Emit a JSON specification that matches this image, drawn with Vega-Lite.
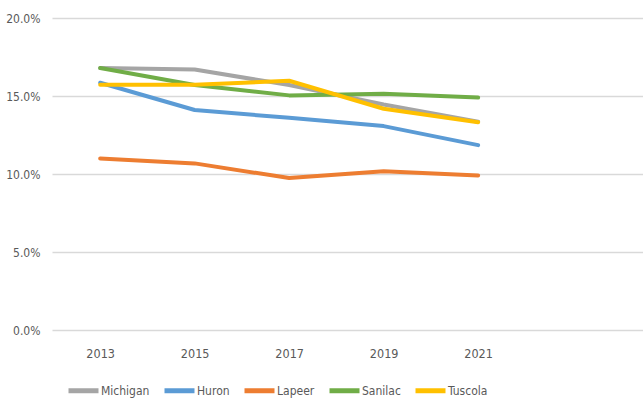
{
  "$schema": "https://vega.github.io/schema/vega-lite/v6.json",
  "width": 591,
  "height": 312,
  "autosize": {"type": "none"},
  "padding": {"left": 52, "top": 18, "right": 0, "bottom": 71},
  "background": "white",
  "config": {
    "view": {"stroke": null},
    "font": "DejaVu Sans Condensed, sans-serif"
  },
  "data": {
    "values": [
      {"year": 2013, "county": "Michigan", "rate": 0.168},
      {"year": 2015, "county": "Michigan", "rate": 0.167},
      {"year": 2017, "county": "Michigan", "rate": 0.157},
      {"year": 2019, "county": "Michigan", "rate": 0.1445},
      {"year": 2021, "county": "Michigan", "rate": 0.1335},
      {"year": 2013, "county": "Huron", "rate": 0.1585},
      {"year": 2015, "county": "Huron", "rate": 0.141},
      {"year": 2017, "county": "Huron", "rate": 0.136},
      {"year": 2019, "county": "Huron", "rate": 0.1307},
      {"year": 2021, "county": "Huron", "rate": 0.1185},
      {"year": 2013, "county": "Lapeer", "rate": 0.110},
      {"year": 2015, "county": "Lapeer", "rate": 0.1068},
      {"year": 2017, "county": "Lapeer", "rate": 0.0974},
      {"year": 2019, "county": "Lapeer", "rate": 0.1017},
      {"year": 2021, "county": "Lapeer", "rate": 0.0991},
      {"year": 2013, "county": "Sanilac", "rate": 0.168},
      {"year": 2015, "county": "Sanilac", "rate": 0.157},
      {"year": 2017, "county": "Sanilac", "rate": 0.1504},
      {"year": 2019, "county": "Sanilac", "rate": 0.1514},
      {"year": 2021, "county": "Sanilac", "rate": 0.149},
      {"year": 2013, "county": "Tuscola", "rate": 0.1572},
      {"year": 2015, "county": "Tuscola", "rate": 0.1572},
      {"year": 2017, "county": "Tuscola", "rate": 0.1598},
      {"year": 2019, "county": "Tuscola", "rate": 0.1418},
      {"year": 2021, "county": "Tuscola", "rate": 0.1332}
    ]
  },
  "mark": {"type": "line", "strokeWidth": 4, "strokeCap": "round", "strokeJoin": "round"},
  "encoding": {
    "x": {
      "field": "year",
      "type": "quantitative",
      "scale": {"domain": [2011.98, 2024.49], "nice": false, "zero": false},
      "axis": {
        "title": null,
        "values": [2013, 2015, 2017, 2019, 2021],
        "format": "d",
        "grid": false,
        "domain": false,
        "ticks": false,
        "labelPadding": 17,
        "labelFontSize": 12.5,
        "labelColor": "#595959"
      }
    },
    "y": {
      "field": "rate",
      "type": "quantitative",
      "scale": {"domain": [0, 0.2], "nice": false},
      "axis": {
        "title": null,
        "values": [0, 0.05, 0.1, 0.15, 0.2],
        "format": ".1%",
        "domain": false,
        "ticks": false,
        "gridColor": "#d9d9d9",
        "gridWidth": 1.5,
        "labelPadding": 12,
        "labelFontSize": 12,
        "labelColor": "#595959"
      }
    },
    "color": {
      "field": "county",
      "type": "nominal",
      "scale": {
        "domain": ["Michigan", "Huron", "Lapeer", "Sanilac", "Tuscola"],
        "range": ["#A5A5A5", "#5B9BD5", "#ED7D31", "#70AD47", "#FFC000"]
      },
      "legend": {
        "title": null,
        "orient": "none",
        "direction": "horizontal",
        "legendX": 14,
        "legendY": 355,
        "symbolType": "stroke",
        "symbolSize": 900,
        "symbolStrokeWidth": 5,
        "labelOffset": 0,
        "columnPadding": 4,
        "labelFontSize": 12,
        "labelColor": "#595959"
      }
    }
  }
}
